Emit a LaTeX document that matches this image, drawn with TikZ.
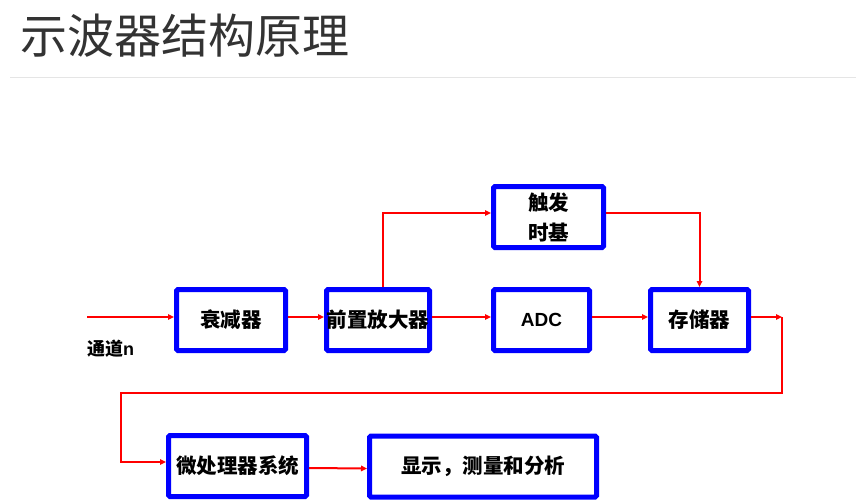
\documentclass[tikz,border=0pt]{standalone}
\usepackage{fontspec}
\setmainfont{Liberation Sans}
\newfontfamily\cjk{Noto Sans CJK SC}
\usetikzlibrary{arrows.meta}
\definecolor{boxblue}{RGB}{0,0,255}
\definecolor{arrred}{RGB}{255,0,0}
\definecolor{titlegray}{RGB}{51,51,51}
\tikzset{
  blk/.style={draw=boxblue, line width=5pt, rounded corners=1.5pt, fill=white,
    inner sep=0pt, minimum height=61pt, align=center,
    font=\cjk\bfseries\fontsize{20.5}{30}\selectfont},
  wire/.style={draw=arrred, line width=2pt},
  arr/.style={wire, -{Triangle[length=6pt,width=5.5pt]}},
}
\begin{document}
\begin{tikzpicture}[x=1pt,y=-1pt]
\useasboundingbox (0,0) rectangle (856,500);
\fill[white] (0,0) rectangle (856,500);
\node[anchor=base west, inner sep=0pt, text=titlegray, font=\cjk\fontsize{47}{50}\selectfont] (title) at (20,54) {示波器结构原理};
\draw[black!10, line width=1pt] (10,78) -- (856,78);

\node[blk, minimum width=109pt] (att) at (231,320) {衰减器};
\node[blk, minimum width=103pt] (pre) at (378,320) {前置放大器};
\node[blk, minimum width=110pt] (trig) at (548.5,217) {触发\\时基};
\node[blk, minimum width=96pt, font=\bfseries\fontsize{19}{24}\selectfont] (adc) at (541.5,320) {ADC};
\node[blk, minimum width=98pt] (mem) at (699.5,320) {存储器};
\node[blk, minimum width=138pt] (mp) at (237.5,466) {微处理器系统};
\node[blk, minimum width=227pt] (disp) at (483,466.5) {显示，测量和分析};

\node[anchor=west, inner sep=0pt, font=\bfseries\fontsize{18}{20}\selectfont] (chan) at (87,349) {{\cjk 通道}n};

\coordinate (in) at (87,317);
\coordinate (c1) at (782,317);
\coordinate (c2) at (121,393);

\draw[arr] (in) -- ([yshift=3pt]att.west);
\draw[arr] ([yshift=3pt]att.east) -- ([yshift=3pt]pre.west);
\draw[arr] ([yshift=3pt]pre.east) -- ([yshift=3pt]adc.west);
\draw[arr] ([xshift=5pt]pre.north) |- ([yshift=4pt]trig.west);
\draw[arr] ([yshift=4pt]trig.east) -| (mem.north);
\draw[arr] ([yshift=3pt]adc.east) -- ([yshift=3pt]mem.west);
\draw[arr] ([yshift=3pt]mem.east) -- (c1);
\draw[arr] (c1) |- (c2) |- ([yshift=4pt]mp.west);
\draw[arr] ([yshift=-2pt]mp.east) -- ([yshift=-2pt]disp.west);
\end{tikzpicture}
\end{document}
